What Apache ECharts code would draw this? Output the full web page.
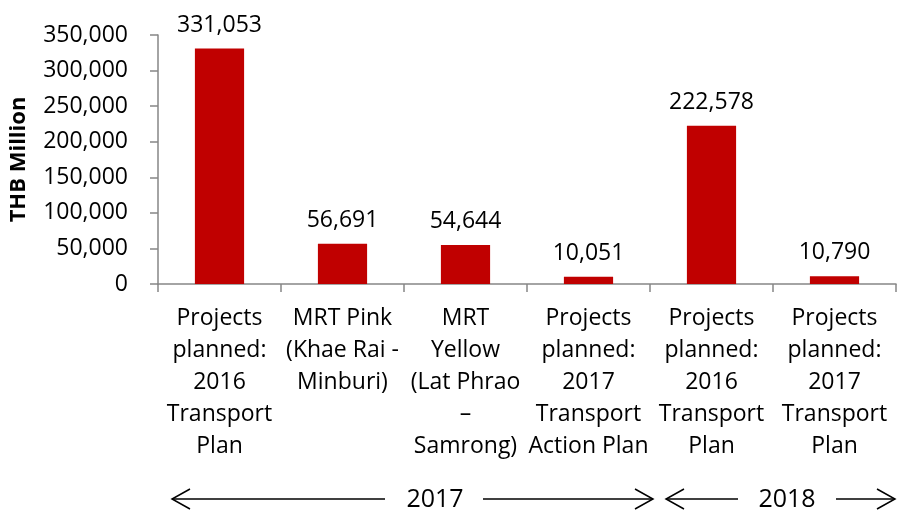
<!DOCTYPE html>
<html>
<head>
<meta charset="utf-8">
<script src="https://cdn.jsdelivr.net/npm/echarts@6/dist/echarts.min.js"></script>
<style>
  html, body { margin: 0; padding: 0; background: #fff; }
  #chart { width: 898px; height: 518px; }
</style>
</head>
<body>
<div id="chart"></div>
<script>
// 类别与数值
const categories = [
  'Projects\nplanned:\n2016\nTransport\nPlan',
  'MRT Pink\n(Khae Rai -\nMinburi)',
  'MRT\nYellow\n(Lat Phrao\n–\nSamrong)',
  'Projects\nplanned:\n2017\nTransport\nAction Plan',
  'Projects\nplanned:\n2016\nTransport\nPlan',
  'Projects\nplanned:\n2017\nTransport\nPlan'
]
const values = [331053, 56691, 54644, 10051, 222578, 10790]
const yTicks = [0, 50000, 100000, 150000, 200000, 250000, 300000, 350000]
const yearLabels = ['2017', '2018']

const FONT = '"Open Sans", "Noto Sans", sans-serif'
const axisGray = '#868686'
const chart = echarts.init(document.getElementById('chart'))

// 年份箭头
const arrowLine = (x1, x2, y) => ({
  type: 'line',
  shape: { x1: x1, y1: y, x2: x2, y2: y },
  style: { stroke: '#000', lineWidth: 1.5 }
})
const arrowHead = (x, y, dir) => ({
  type: 'polyline',
  shape: { points: [[x - dir * 18, y - 10], [x, y], [x - dir * 18, y + 10]] },
  style: { stroke: '#000', lineWidth: 1.5, fill: null }
})
const yearText = (x, y, text) => ({
  type: 'text',
  x: x,
  y: y,
  style: { text: text, font: '25px ' + FONT, fill: '#000', align: 'center', verticalAlign: 'middle' }
})
const arrowY = 499

const option = {
  animation: false,
  grid: { left: 155, right: 2, top: 35, bottom: 234, containLabel: false },
  xAxis: {
    type: 'category',
    data: categories,
    axisLine: { lineStyle: { color: axisGray, width: 1.5 } },
    axisTick: { show: true, length: 8, lineStyle: { color: axisGray, width: 1.5 } },
    axisLabel: {
      interval: 0,
      margin: 18,
      color: '#000',
      fontFamily: FONT,
      fontSize: 23,
      lineHeight: 32,
      align: 'center'
    }
  },
  yAxis: {
    type: 'value',
    min: yTicks[0],
    max: yTicks[yTicks.length - 1],
    interval: 50000,
    name: 'THB Million',
    nameLocation: 'middle',
    nameGap: 128,
    nameTextStyle: { color: '#000', fontFamily: FONT, fontSize: 22, fontWeight: 'bold' },
    axisLine: { show: true, lineStyle: { color: axisGray, width: 1.5 } },
    axisTick: { show: true, length: 8, lineStyle: { color: axisGray, width: 1.5 } },
    splitLine: { show: false },
    axisLabel: {
      margin: 30,
      color: '#000',
      fontFamily: FONT,
      fontSize: 23,
      formatter: (v) => echarts.format.addCommas(v)
    }
  },
  series: [
    {
      type: 'bar',
      data: values,
      barWidth: '40%',
      itemStyle: { color: '#C00000' },
      label: {
        show: true,
        position: 'top',
        distance: 12,
        color: '#000',
        fontFamily: FONT,
        fontSize: 23,
        formatter: (p) => echarts.format.addCommas(p.value)
      }
    }
  ],
  graphic: [
    arrowLine(172, 385, arrowY), arrowHead(172, arrowY, -1),
    yearText(435, arrowY + 1, yearLabels[0]),
    arrowLine(483, 653, arrowY), arrowHead(653, arrowY, 1),
    arrowLine(666, 738, arrowY), arrowHead(666, arrowY, -1),
    yearText(787, arrowY + 1, yearLabels[1]),
    arrowLine(836, 895, arrowY), arrowHead(895, arrowY, 1)
  ]
}

chart.setOption(option)
</script>
</body>
</html>
